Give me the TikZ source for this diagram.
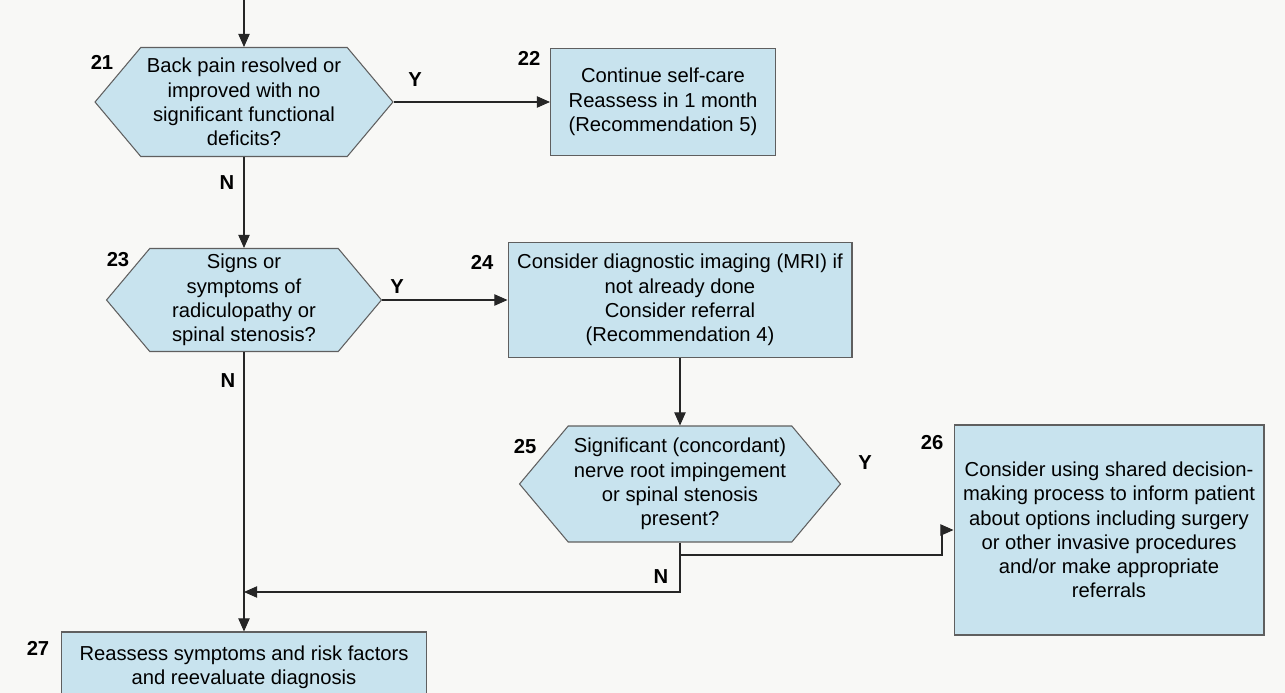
\documentclass[tikz,border=0pt]{standalone}
\usepackage{fontspec}
\setmainfont{Liberation Sans}
\usetikzlibrary{shapes.symbols,arrows.meta}
\definecolor{boxblue}{RGB}{200,227,238}
\definecolor{boxline}{RGB}{95,95,95}
\definecolor{paper}{RGB}{248,248,246}

\begin{document}
\begin{tikzpicture}[x=0.02cm,y=-0.02cm,
    decision/.style={signal,signal to=east and west,signal pointer angle=100,
        draw=boxline,line width=0.6pt,fill=boxblue,align=center,inner sep=1pt,
        font=\fontsize{11.5}{13.8}\selectfont},
    action/.style={rectangle,draw=boxline,line width=0.6pt,fill=boxblue,align=center,
        font=\fontsize{11.5}{13.8}\selectfont},
    num/.style={font=\fontsize{11.5}{13.8}\selectfont\bfseries},
    flow/.style={draw=black!85,line width=0.6pt,-{Triangle[length=7.5pt,width=6.5pt]}}]

        \fill[paper] (0,0) rectangle (1285,693);
        \clip (0,0) rectangle (1285,693);

        % decisions
        \node[decision,minimum width=5.96cm,minimum height=2.18cm] (H21) at (244,102)
            {Back pain resolved or\\improved with no\\significant functional\\deficits?};
        \node[decision,minimum width=5.50cm,minimum height=2.06cm] (H23) at (244,300)
            {Signs or\\symptoms of\\radiculopathy or\\spinal stenosis?};
        \node[decision,minimum width=6.42cm,minimum height=2.32cm] (H25) at (680,484)
            {Significant (concordant)\\nerve root impingement\\or spinal stenosis\\present?};

        % actions
        \node[action,minimum width=4.50cm,minimum height=2.14cm] (B22) at (663,102)
            {Continue self-care\\Reassess in 1 month\\(Recommendation 5)};
        \node[action,minimum width=6.88cm,minimum height=2.30cm] (B24) at (680,300)
            {Consider diagnostic imaging (MRI) if\\not already done\\Consider referral\\(Recommendation 4)};
        \node[action,minimum width=6.20cm,minimum height=4.20cm] (B26) at (1109,530)
            {Consider using shared decision-\\making process to inform patient\\about options including surgery\\or other invasive procedures\\and/or make appropriate\\referrals};
        \node[action,minimum width=7.32cm,minimum height=1.40cm] (B27) at (244,667)
            {Reassess symptoms and risk factors\\and reevaluate diagnosis};

        % step numbers
        \node[num] (N21) at (102,62) {21};
        \node[num] (N22) at (529,58) {22};
        \node[num] (N23) at (118,260) {23};
        \node[num] (N24) at (482,262) {24};
        \node[num] (N25) at (525,447) {25};
        \node[num] (N26) at (932,443) {26};
        \node[num] (N27) at (38,648) {27};

        % answers
        \node[num] (Y21) at (415,80) {Y};
        \node[num] (No21) at (227,183) {N};
        \node[num] (Y23) at (397,287) {Y};
        \node[num] (No23) at (228,381) {N};
        \node[num] (Y25) at (865,463) {Y};
        \node[num] (No25) at (661,577) {N};

        \coordinate (IN) at (244,0);
        \coordinate (J27) at (244,592);
        \coordinate (T25) at (680,555);
        \coordinate (U26) at (942,530);

        \draw[flow] (IN) -- (H21.north);
        \draw[flow] (H21.east) -- (B22.west);
        \draw[flow] (H21.south) -- (H23.north);
        \draw[flow] (H23.east) -- (B24.west);
        \draw[flow] (B24.south) -- (H25.north);
        \draw[flow] (H23.south) -- (B27.north);
        \draw[flow] (H25.south) |- (J27);
        \draw[flow] (T25) -| (U26) -- (B26.west);
\end{tikzpicture}
\end{document}
